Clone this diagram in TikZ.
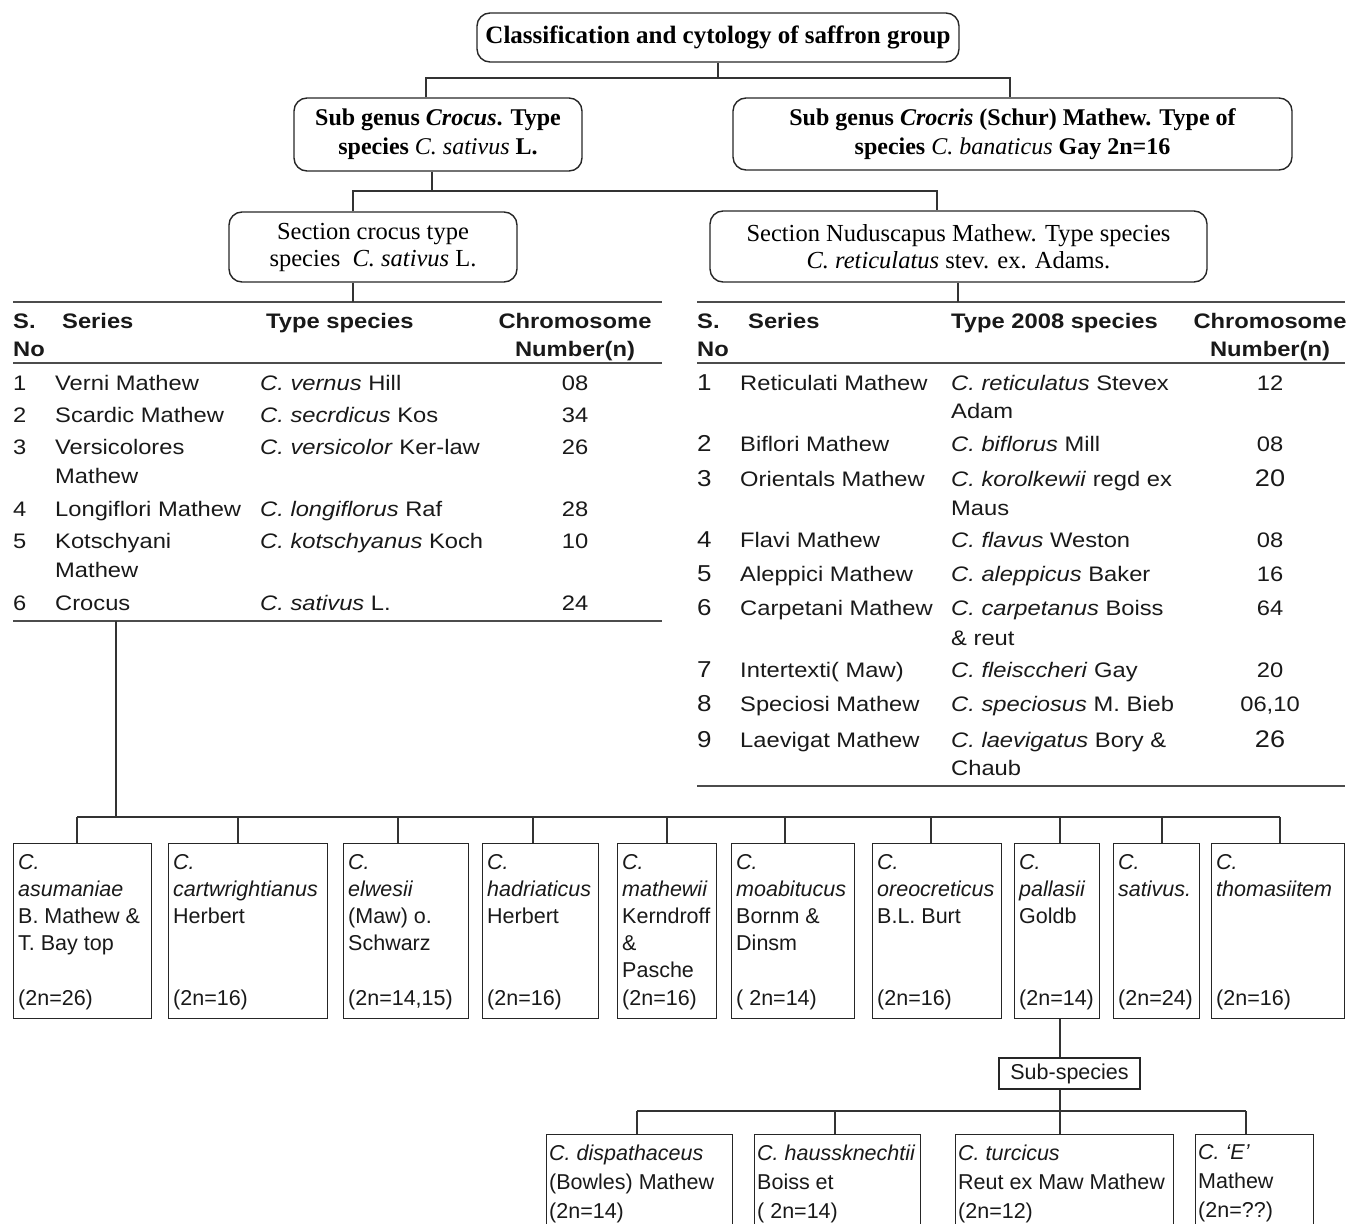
\documentclass[tikz,border=0pt]{standalone}
\usepackage{fontspec}
\setmainfont{Liberation Serif}
\setsansfont{Liberation Sans}
\newfontfamily\tabfont[FakeStretch=1.13]{Liberation Sans}
\begin{document}
\begin{tikzpicture}[x=1pt,y=-1pt,
  conn/.style={draw=black!80, line width=1.3pt},
  rulel/.style={draw=black!70, line width=1.8pt},
  rbox/.style={draw=black!85, line width=1.4pt, rounded corners=13pt, inner sep=0pt, align=center},
  sbox/.style={draw=black!85, line width=1.2pt, inner sep=0pt},
  topf/.style={font=\fontsize{25}{30}\selectfont\bfseries},
  subf/.style={font=\fontsize{24}{29}\selectfont\bfseries},
  secf/.style={font=\fontsize{24.5}{27}\selectfont},
  th/.style={font=\tabfont\fontsize{21}{26}\selectfont\bfseries, inner sep=0pt, text=black!90},
  td/.style={font=\tabfont\fontsize{21}{26}\selectfont, inner sep=0pt, text=black!90},
  tdn/.style={font=\tabfont\fontsize{23}{26}\selectfont, inner sep=0pt, text=black!90},
  bt/.style={font=\sffamily\fontsize{21.5}{27}\selectfont, inner sep=0pt, align=left, text=black!90},
  bu/.style={font=\sffamily\fontsize{21.5}{29}\selectfont, inner sep=0pt, align=left, text=black!90},
]
\useasboundingbox (0,0) rectangle (1348,1223);
\clip (0,0) rectangle (1348,1223);

% ---------- header boxes ----------
\node[rbox, topf, minimum width=482, minimum height=49] (top) at (718,37.5) {Classification and cytology of saffron group};
\node[rbox, subf, minimum width=288, minimum height=73] (crocus) at (438,134.5) {Sub genus \textit{Crocus}. Type\\species {\mdseries\itshape C. sativus} L.};
\node[rbox, subf, minimum width=559, minimum height=72] (crocris) at (1012.5,134) {Sub genus \textit{Crocris} (Schur) Mathew. Type of\\species {\mdseries\itshape C. banaticus} Gay 2n=16};
\node[rbox, secf, minimum width=288, minimum height=70] (seccro) at (373,247) {Section crocus type\\species~ \textit{C. sativus} L.};
\node[rbox, secf, minimum width=497, minimum height=71] (secnud) at (958.5,246.5) {Section Nuduscapus Mathew. Type species\\\textit{C. reticulatus} stev. ex. Adams.};

% ---------- connectors top ----------
\coordinate (b1a) at (426,78);
\coordinate (b1b) at (1010,78);
\draw[conn] (top.south) -- (top.south |- b1a);
\draw[conn] (crocus.north -| b1a) -- (b1a) -- (b1b) -- (crocris.north -| b1b);
\coordinate (b2a) at (353,191);
\coordinate (b2m) at (432,191);
\coordinate (b2b) at (937,191);
\draw[conn] (crocus.south -| b2m) -- (b2m);
\draw[conn] (seccro.north -| b2a) -- (b2a) -- (b2b) -- (secnud.north -| b2b);

% ---------- table rules ----------
\coordinate (LTa) at (13,302);  \coordinate (LTb) at (662,302);
\coordinate (LHa) at (13,363);  \coordinate (LHb) at (662,363);
\coordinate (LBa) at (13,621);  \coordinate (LBb) at (662,621);
\coordinate (RTa) at (697,302); \coordinate (RTb) at (1345,302);
\coordinate (RHa) at (697,363); \coordinate (RHb) at (1345,363);
\coordinate (RBa) at (697,786); \coordinate (RBb) at (1345,786);
\draw[rulel] (LTa) -- (LTb);
\draw[rulel] (LHa) -- (LHb);
\draw[rulel] (LBa) -- (LBb);
\draw[rulel] (RTa) -- (RTb);
\draw[rulel] (RHa) -- (RHb);
\draw[rulel] (RBa) -- (RBb);
\coordinate (nd) at (958,282);
\draw[conn] (seccro.south -| b2a) -- (LTa -| b2a);
\draw[conn] (secnud.south -| nd) -- (RTa -| nd);

% ---------- left table ----------
\foreach \x/\y/\t [count=\k] in {13/328/S., 13/356/No, 62/328/Series, 266/328/Type species}
  \node[th, anchor=base west] (lh\k) at (\x,\y) {\t};
\foreach \x/\y/\t [count=\k] in {575/328/Chromosome, 575/356/Number(n)}
  \node[th, anchor=base] (lc\k) at (\x,\y) {\t};
\foreach \x/\y/\t [count=\k] in {
  13/390/1, 55/390/Verni Mathew, 260/390/{\textit{C. vernus} Hill},
  13/422/2, 55/422/Scardic Mathew, 260/422/{\textit{C. secrdicus} Kos},
  13/454/3, 55/454/Versicolores, 260/454/{\textit{C. versicolor} Ker-law}, 55/483/Mathew,
  13/516/4, 55/516/Longiflori Mathew, 260/516/{\textit{C. longiflorus} Raf},
  13/548/5, 55/548/Kotschyani, 260/548/{\textit{C. kotschyanus} Koch}, 55/577/Mathew,
  13/610/6, 55/610/Crocus, 260/610/{\textit{C. sativus} L.}}
  \node[td, anchor=base west] (ld\k) at (\x,\y) {\t};
\foreach \y/\t [count=\k] in {390/08, 422/34, 454/26, 516/28, 548/10, 610/24}
  \node[td, anchor=base] (lv\k) at (575,\y) {\t};

% ---------- right table ----------
\foreach \x/\y/\t [count=\k] in {697/328/S., 697/356/No, 748/328/Series, 951/328/Type 2008 species}
  \node[th, anchor=base west] (rh\k) at (\x,\y) {\t};
\foreach \x/\y/\t [count=\k] in {1270/328/Chromosome, 1270/356/Number(n)}
  \node[th, anchor=base] (rc\k) at (\x,\y) {\t};
\foreach \y/\t [count=\k] in {390/1, 451/2, 486/3, 547/4, 581/5, 615/6, 677/7, 711/8, 747/9}
  \node[tdn, anchor=base west] (rn\k) at (697,\y) {\t};
\foreach \y/\t [count=\k] in {390/Reticulati Mathew, 451/Biflori Mathew, 486/Orientals Mathew,
  547/Flavi Mathew, 581/Aleppici Mathew, 615/Carpetani Mathew, 677/Intertexti( Maw),
  711/Speciosi Mathew, 747/Laevigat Mathew}
  \node[td, anchor=base west] (rs\k) at (740,\y) {\t};
\foreach \y/\t [count=\k] in {390/{\textit{C. reticulatus} Stevex}, 418/Adam,
  451/{\textit{C. biflorus} Mill}, 486/{\textit{C. korolkewii} regd ex}, 515/Maus,
  547/{\textit{C. flavus} Weston}, 581/{\textit{C. aleppicus} Baker},
  615/{\textit{C. carpetanus} Boiss}, 645/{\& reut}, 677/{\textit{C. fleisccheri} Gay},
  711/{\textit{C. speciosus} M. Bieb}, 747/{\textit{C. laevigatus} Bory \&}, 775/Chaub}
  \node[td, anchor=base west] (rp\k) at (951,\y) {\t};
\foreach \y/\t [count=\k] in {390/12, 451/08, 486/{\fontsize{24}{26}\selectfont 20}, 547/08, 581/16,
  615/64, 677/20, 711/{06,10}, 747/{\fontsize{24}{26}\selectfont 26}}
  \node[td, anchor=base] (rv\k) at (1270,\y) {\t};

% ---------- species boxes ----------
\foreach \k/\xa/\ww/\dx/\txt/\cn in {
  1/13/138/77/{\textit{C.}\\\textit{asumaniae}\\B. Mathew \&\\T. Bay top}/(2n=26),
  2/168/159/238/{\textit{C.}\\\textit{cartwrightianus}\\Herbert}/(2n=16),
  3/343/125/398/{\textit{C.}\\\textit{elwesii}\\(Maw) o.\\Schwarz}/{(2n=14,15)},
  4/482/116/533/{\textit{C.}\\\textit{hadriaticus}\\Herbert}/(2n=16),
  5/617/99/667/{\textit{C.}\\\textit{mathewii}\\Kerndroff\\\&\\Pasche}/(2n=16),
  6/731/123/785/{\textit{C.}\\\textit{moabitucus}\\Bornm \&\\Dinsm}/( 2n=14),
  7/872/129/931/{\textit{C.}\\\textit{oreocreticus}\\B.L. Burt}/(2n=16),
  8/1014/85/1060/{\textit{C.}\\\textit{pallasii}\\Goldb}/(2n=14),
  9/1113/86/1162/{\textit{C.}\\\textit{sativus.}}/(2n=24),
  10/1211/133/1280/{\textit{C.}\\\textit{thomasiitem}}/(2n=16)}
{
  \node[sbox, minimum width=\ww, minimum height=175, anchor=north west] (s\k) at (\xa,843) {};
  \node[bt, anchor=north west] (s\k-t) at ([shift={(5,11)}]s\k.north west) {\txt};
  \node[bt, anchor=base west] (s\k-n) at ([shift={(5,162)}]s\k.north west) {\cn};
  \coordinate (d\k) at (\dx,817);
  \draw[conn] (d\k) -- (d\k |- s\k.north);
}
\coordinate (lbd) at (116,621);
\draw[conn] (lbd) -- (lbd |- d1);
\draw[conn] (d1) -- (d10);

% ---------- sub-species ----------
\node[sbox, font=\sffamily\fontsize{21.5}{26}\selectfont, text=black!90, minimum width=141, minimum height=31] (subsp) at (1069.5,1073.5) {Sub-species};
\coordinate (pd) at (1060,1111);
\draw[conn] (s8.south -| pd) -- (subsp.north -| pd);
\draw[conn] (subsp.south -| pd) -- (pd);

\foreach \k/\xa/\ww/\dx/\txt in {
  1/546/186/637/{\textit{C. dispathaceus}\\(Bowles) Mathew\\(2n=14)},
  2/754/166/835/{\textit{C. haussknechtii}\\Boiss et\\( 2n=14)},
  3/955/218/1060/{\textit{C. turcicus}\\Reut ex Maw Mathew\\(2n=12)},
  4/1195/118/1246/{\textit{C. ‘E’}\\Mathew\\(2n=??)}}
{
  \node[sbox, minimum width=\ww, minimum height=110, anchor=north west] (u\k) at (\xa,1134) {};
  \node[bu, anchor=north west] (u\k-t) at ([shift={(3,10.5)}]u\k.north west) {\txt};
  \coordinate (e\k) at (\dx,1111);
  \draw[conn] (e\k) -- (e\k |- u\k.north);
}
\draw[conn] (e1) -- (e4);
\end{tikzpicture}
\end{document}
